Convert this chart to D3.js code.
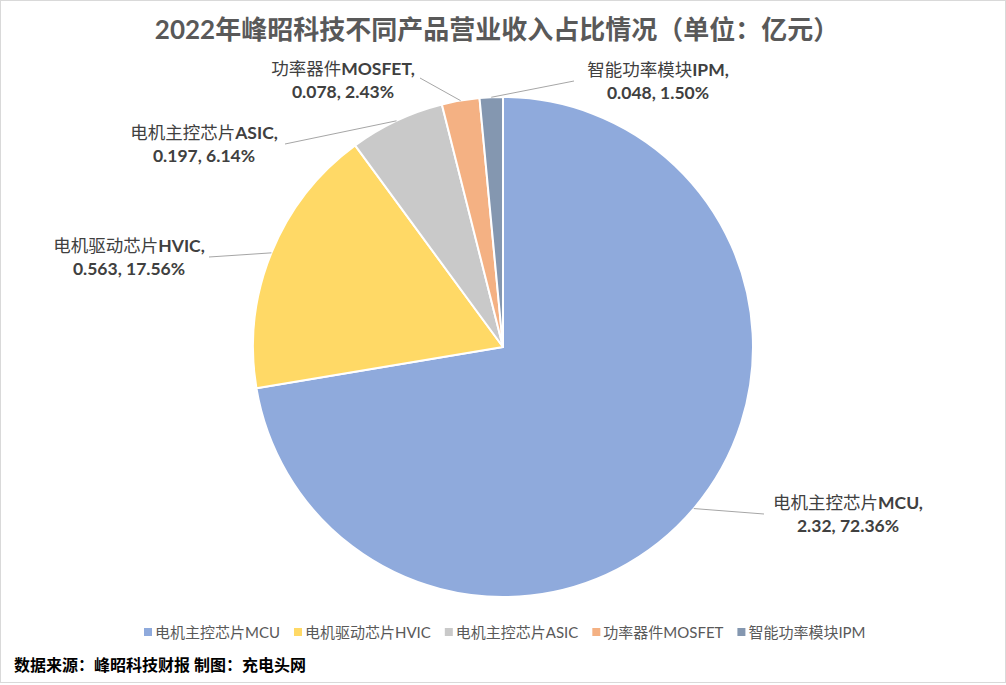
<!DOCTYPE html>
<html>
<head>
<meta charset="utf-8">
<script src="https://cdn.jsdelivr.net/npm/d3@7"></script>
<style>
  body { margin: 0; background: #fff; }
  text { font-family: "Lato", "Noto Sans CJK SC", sans-serif; }
</style>
</head>
<body>
<div id="chart"></div>
<script>
// data
var categories = ["电机主控芯片MCU", "电机驱动芯片HVIC", "电机主控芯片ASIC", "功率器件MOSFET", "智能功率模块IPM"];
var revenue = [2.32, 0.563, 0.197, 0.078, 0.048];
var shareLabels = ["72.36%", "17.56%", "6.14%", "2.43%", "1.50%"];
var colors = ["#8FAADC", "#FFD966", "#C9C9C9", "#F4B183", "#8497B0"];

// where each data label sits (text centre x, first line y) and where its leader line begins
var labelLayout = [
  { x: 848, y: 509, lx: 764, ly: 514 },
  { x: 129, y: 252, lx: 209, ly: 257 },
  { x: 204, y: 139, lx: 285, ly: 144 },
  { x: 343, y: 75, lx: 420, ly: 78 },
  { x: 658, y: 76, lx: 574, ly: 81 }
];

var svgWidth = 1006, svgHeight = 685;
var cx = 503, cy = 347, radius = 250;

var svg = d3.select("#chart").append("svg")
  .attr("width", svgWidth)
  .attr("height", svgHeight);

svg.append("rect")
  .attr("x", 0.5).attr("y", 0.5)
  .attr("width", svgWidth - 1).attr("height", svgHeight - 3)
  .attr("fill", "#fff")
  .attr("stroke", "#d9d9d9");

svg.append("text")
  .attr("x", 497).attr("y", 39)
  .attr("text-anchor", "middle")
  .attr("font-size", 26)
  .attr("font-weight", "bold")
  .attr("fill", "#595959")
  .text("2022年峰昭科技不同产品营业收入占比情况（单位：亿元）");

var pieData = d3.pie().sort(null).value(d => d)(revenue);
var arc = d3.arc().innerRadius(0).outerRadius(radius);
var edge = d3.arc().innerRadius(radius).outerRadius(radius);

var pieGroup = svg.append("g").attr("transform", `translate(${cx}, ${cy})`);

pieGroup.selectAll("path")
  .data(pieData)
  .enter()
  .append("path")
  .attr("d", arc)
  .attr("fill", (d, i) => colors[i])
  .attr("stroke", "#fff")
  .attr("stroke-width", 2)
  .attr("stroke-linejoin", "round");

// leader lines
pieGroup.selectAll("line.leader")
  .data(pieData)
  .enter()
  .append("line")
  .attr("class", "leader")
  .attr("x1", (d, i) => labelLayout[i].lx - cx)
  .attr("y1", (d, i) => labelLayout[i].ly - cy)
  .attr("x2", d => edge.centroid(d)[0])
  .attr("y2", d => edge.centroid(d)[1])
  .attr("stroke", "#a6a6a6")
  .attr("stroke-width", 1);

// data labels
var labels = svg.selectAll("g.label")
  .data(categories)
  .enter()
  .append("g")
  .attr("class", "label");

labels.each(function (name, i) {
  var g = d3.select(this);
  var pos = labelLayout[i];
  var m = name.match(/^([^A-Za-z]+)([A-Za-z]+)$/);
  var t1 = g.append("text")
    .attr("x", pos.x).attr("y", pos.y)
    .attr("text-anchor", "middle")
    .attr("font-size", 17.5)
    .attr("fill", "#404040");
  t1.append("tspan").text(m[1]);
  t1.append("tspan").attr("font-weight", "bold").text(m[2] + ",");
  g.append("text")
    .attr("x", pos.x).attr("y", pos.y + 23)
    .attr("text-anchor", "middle")
    .attr("font-size", 17.5)
    .attr("font-weight", "bold")
    .attr("fill", "#404040")
    .text(revenue[i] + ", " + shareLabels[i]);
});

// legend
var legend = svg.append("g").attr("class", "legend");
var lx = 144;
categories.forEach(function (name, i) {
  legend.append("rect")
    .attr("x", lx).attr("y", 628)
    .attr("width", 8).attr("height", 8)
    .attr("fill", colors[i]);
  var t = legend.append("text")
    .attr("x", lx + 11).attr("y", 638)
    .attr("font-size", 15)
    .attr("fill", "#595959")
    .text(name);
  lx += 11 + t.node().getComputedTextLength() + 14;
});

svg.append("text")
  .attr("x", 14).attr("y", 671)
  .attr("font-size", 16)
  .attr("font-weight", "bold")
  .attr("fill", "#000")
  .text("数据来源：峰昭科技财报 制图：充电头网");
</script>
</body>
</html>
